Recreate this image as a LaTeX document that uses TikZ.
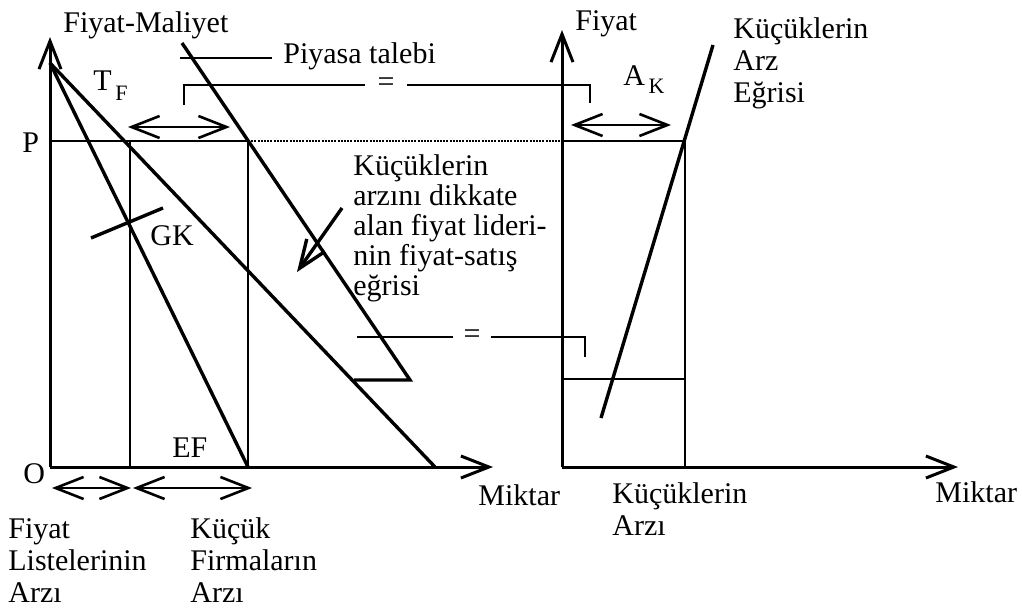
\documentclass[tikz,border=0pt]{standalone}
\usepackage{fontspec}
\setmainfont{Liberation Serif}
\newfontfamily\tnr{Liberation Serif}
\usetikzlibrary{arrows.meta, positioning}

\begin{document}
\begin{tikzpicture}[
    x=0.5pt, y=-0.5pt,
    lbl/.style={font=\tnr\fontsize{15}{15}\selectfont, inner sep=0pt, align=left, anchor=base west},
    tall/.style={lbl, font=\tnr\fontsize{15}{16}\selectfont},
    curve/.style={line width=1.7pt},
    guide/.style={line width=1.2pt},
    brack/.style={line width=1pt},
    axis/.style={line width=1.5pt, -{Straight Barb[length=14pt, width=11pt]}},
    span/.style={line width=1.3pt, {Straight Barb[length=14pt, width=11pt]}-{Straight Barb[length=14pt, width=11pt]}}
]
    \useasboundingbox (0,0) rectangle (1022,611);

    % left panel: leader firm
    \coordinate (O)    at (50,467);
    \coordinate (ytop) at (50,37);
    \coordinate (xend) at (493,467);
    \coordinate (top)  at (50,63);
    \coordinate (pL)   at (50,141);
    \coordinate (q1)   at (130,141);
    \coordinate (q2)   at (248,141);
    \coordinate (q1b)  at (130,467);
    \coordinate (q2b)  at (248,467);
    \coordinate (lend) at (435,467);
    \coordinate (dtop) at (182,43);
    \coordinate (dbot) at (410,380);
    \coordinate (kink) at (354,380);
    \coordinate (gka)  at (91,238);
    \coordinate (gkb)  at (163,208);

    \draw[axis] (O) -- (ytop);
    \draw[axis] (O) -- (xend);
    \draw[guide] (pL) -- (q2);
    \draw[guide] (q1) -- (q1b);
    \draw[guide] (q2) -- (q2b);
    \draw[curve] (top) -- (q2b);
    \draw[curve] (top) -- (lend);
    \draw[curve] (dtop) -- (dbot) -- (kink);
    \draw[curve] (gka) -- (gkb);

    % right panel: small firms
    \coordinate (O2)    at (562,467);
    \coordinate (y2top) at (562,30);
    \coordinate (x2end) at (958,467);
    \coordinate (pR)    at (562,141);
    \coordinate (s1)    at (685,141);
    \coordinate (s1b)   at (685,467);
    \coordinate (lowL)  at (562,379);
    \coordinate (lowR)  at (685,379);
    \coordinate (suptop) at (713,45);
    \coordinate (supbot) at (601,418);

    \draw[axis] (O2) -- (y2top);
    \draw[axis] (O2) -- (x2end);
    \draw[guide] (pR) -- (s1) -- (s1b);
    \draw[guide] (lowL) -- (lowR);
    \draw[curve] (suptop) -- (supbot);
    \draw[line width=0.6pt, dash pattern=on 1pt off 0.6pt] (q2) -- (pR);

    % quantity spans
    \coordinate (ta) at (128,127);  \coordinate (tb) at (230,127);
    \coordinate (aa) at (571,125);  \coordinate (ab) at (671,125);
    \coordinate (fa) at (52,488);   \coordinate (fb) at (131,488);
    \coordinate (ka) at (133,488);  \coordinate (kb) at (252,488);
    \draw[span] (ta) -- (tb);
    \draw[span] (aa) -- (ab);
    \draw[span] (fa) -- (fb);
    \draw[span] (ka) -- (kb);

    % equality brackets
    \node[lbl, anchor=center, inner xsep=6pt] (eqa) at (386,85) {=};
    \coordinate (bra) at (184,105);
    \coordinate (brb) at (590,103);
    \draw[brack] (bra) |- (eqa.west);
    \draw[brack] (eqa.east) -| (brb);
    \node[lbl, anchor=center, inner xsep=5pt] (eqb) at (472,337) {=};
    \coordinate (brc) at (357,337);
    \coordinate (brd) at (585,357);
    \draw[brack] (brc) -- (eqb.west);
    \draw[brack] (eqb.east) -| (brd);

    % leaders
    \coordinate (pta) at (180,58);
    \coordinate (ptb) at (272,58);
    \draw[guide] (pta) -- (ptb);
    \coordinate (ara) at (342,208);
    \coordinate (arb) at (297,272);
    \draw[curve, -{Straight Barb[length=14pt, width=11pt]}] (ara) -- (arb);

    % labels (multi-line ones sit on their last line)
    \node[lbl] (fm)   at (63,32)   {Fiyat-Maliyet};
    \node[lbl] (pt)   at (283,63)  {Piyasa talebi};
    \node[lbl] (tf)   at (93,90)   {T\raisebox{-5pt}{\fontsize{11}{11}\selectfont\,F}};
    \node[lbl] (ak)   at (623,85)  {A\raisebox{-4pt}{\fontsize{11}{11}\selectfont\,K}};
    \node[lbl] (p)    at (22,152)  {P};
    \node[lbl] (gk)   at (150,245) {GK};
    \node[lbl] (ef)   at (172,457) {EF};
    \node[lbl] (o)    at (23,483)  {O};
    \node[lbl] (mk1)  at (478,505) {Miktar};
    \node[lbl] (mk2)  at (935,502) {Miktar};
    \node[lbl] (fy2)  at (575,30)  {Fiyat};
    \node[tall] (kae) at (733,102) {Küçüklerin\\Arz\\Eğrisi};
    \node[lbl] (lider) at (353,295)
        {Küçüklerin\\arzını dikkate\\alan fiyat lideri-\\nin fiyat-satış\\eğrisi};
    \node[tall] (ka2) at (612,535) {Küçüklerin\\Arzı};
    \node[tall] (fla) at (8,602)   {Fiyat\\Listelerinin\\Arzı};
    \node[tall] (kfa) at (190,602) {Küçük\\Firmaların\\Arzı};
\end{tikzpicture}
\end{document}
